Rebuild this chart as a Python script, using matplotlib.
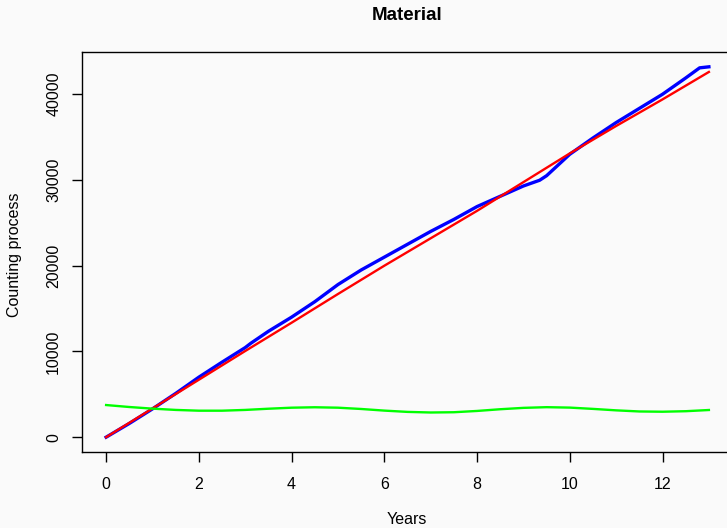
import matplotlib.pyplot as plt

# values
years_obs = [0, 0.5, 1, 1.5, 2, 2.5, 3, 3.12, 3.5, 4, 4.5, 5, 5.5, 6, 6.5, 7, 7.5, 8,
             8.5, 9, 9.35, 9.5, 9.8, 10, 10.5, 11, 11.5, 12, 12.5, 12.8, 13]
counts_obs = [0, 1600, 3300, 5100, 7000, 8750, 10450, 10950, 12350, 14000, 15800, 17800,
              19500, 21000, 22500, 24000, 25400, 26900, 28100, 29300, 29970, 30500,
              32000, 33000, 34900, 36700, 38350, 40000, 41900, 43080, 43200]

years_fit = [0, 1, 2, 3, 4, 5, 6, 7, 8, 9, 10, 11, 12, 13]
counts_fit = [0, 3350, 6700, 10050, 13350, 16700, 20000, 23200, 26400, 29750,
              33100, 36300, 39400, 42600]

years_int = [0, 0.5, 1, 1.5, 2, 2.5, 3, 3.5, 4, 4.5, 5, 5.5, 6, 6.5, 7, 7.5, 8, 8.5,
             9, 9.5, 10, 10.5, 11, 11.5, 12, 12.5, 13]
intensity = [3750, 3520, 3330, 3180, 3090, 3090, 3180, 3320, 3440, 3490, 3440, 3290,
             3100, 2950, 2880, 2910, 3060, 3260, 3420, 3500, 3450, 3300, 3130, 3000,
             2970, 3030, 3170]

bg = "#fafafa"
plt.rcParams["font.family"] = ["Liberation Sans", "DejaVu Sans"]
plt.rcParams["font.size"] = 11.5

fig = plt.figure(figsize=(7.27, 5.28), dpi=100, facecolor=bg)
ax = fig.add_axes([82 / 727, 76 / 528, 651 / 727, 400 / 528], facecolor=bg)

ax.plot(years_obs, counts_obs, color="#0000ff", lw=2.4)
ax.plot(years_fit, counts_fit, color="#ff0000", lw=1.7)
ax.plot(years_int, intensity, color="#00ff00", lw=1.7)

ax.set_xlim(-0.52, 13.52)
ax.set_ylim(-1728, 44928)
ax.set_xticks([0, 2, 4, 6, 8, 10, 12])
ax.set_yticks([0, 10000, 20000, 30000, 40000])
ax.tick_params(axis="x", length=7, width=1, pad=11)
ax.tick_params(axis="y", length=7, width=1, pad=8, labelrotation=90)
for t in ax.get_yticklabels():
    t.set_va("center")
for s in ax.spines.values():
    s.set_color("black")
    s.set_linewidth(1)

fig.text(407 / 727, 1 - 15 / 528, "Material", ha="center", va="center",
         fontsize=13.5, fontweight="bold")
fig.text(407 / 727, 1 - 520 / 528, "Years", ha="center", va="center")
fig.text(15 / 727, 1 - 255 / 528, "Counting process", ha="center", va="center",
         rotation=90)

fig.savefig("out.png", dpi=100, facecolor=bg)
